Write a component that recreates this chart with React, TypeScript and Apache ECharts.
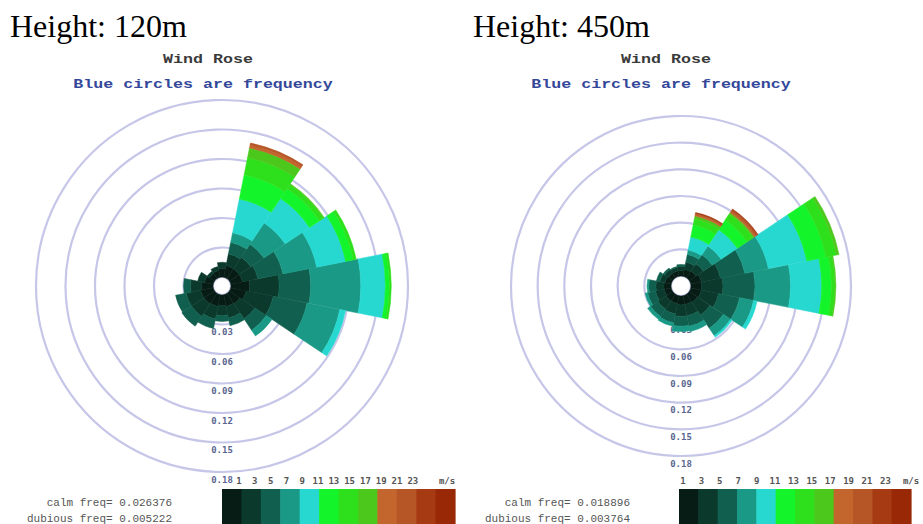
import React, { useEffect, useRef } from "react";
import * as echarts from "echarts";

// ---------- data ----------
const directions = ["N", "NNE", "NE", "ENE", "E", "ESE", "SE", "SSE", "S", "SSW", "SW", "WSW", "W", "WNW", "NW", "NNW"];
const speedLabels = ["1", "3", "5", "7", "9", "11", "13", "15", "17", "19", "21", "23"];
const speedUnit = "m/s";
const freqMin = 0;
const freqMax = 0.18;
const freqStep = 0.03;

// Height 120 m : frequency per direction (N..NNW) for each speed class
const h120_c1 = [0.009, 0.012, 0.012, 0.012, 0.019, 0.016, 0.013, 0.012, 0.011, 0.012, 0.013, 0.013, 0.012, 0.009, 0.006, 0.007];
const h120_c2 = [0.006, 0.012, 0.014, 0.016, 0.030, 0.028, 0.018, 0.012, 0.010, 0.013, 0.015, 0.015, 0.011, 0.007, 0.003, 0.004];
const h120_c3 = [0, 0.012, 0.016, 0.026, 0.032, 0.035, 0.014, 0.008, 0.006, 0.010, 0.012, 0.011, 0.007, 0, 0, 0];
const h120_c4 = [0, 0.010, 0.026, 0.035, 0.051, 0.034, 0.007, 0, 0, 0, 0, 0, 0, 0, 0, 0];
const h120_c5 = [0, 0.035, 0.030, 0.030, 0.025, 0.006, 0, 0, 0, 0, 0, 0, 0, 0, 0, 0];
const h120_c6 = [0, 0.025, 0.012, 0.008, 0.004, 0, 0, 0, 0, 0, 0, 0, 0, 0, 0, 0];
const h120_c7 = [0, 0.018, 0.005, 0.003, 0.002, 0, 0, 0, 0, 0, 0, 0, 0, 0, 0, 0];
const h120_c8 = [0, 0.010, 0.001, 0, 0, 0, 0, 0, 0, 0, 0, 0, 0, 0, 0, 0];
const h120_c9 = [0, 0.003, 0, 0, 0, 0, 0, 0, 0, 0, 0, 0, 0, 0, 0, 0];
const h120_c10 = [0, 0.002, 0, 0, 0, 0, 0, 0, 0, 0, 0, 0, 0, 0, 0, 0];
const h120_c11 = [0, 0, 0, 0, 0, 0, 0, 0, 0, 0, 0, 0, 0, 0, 0, 0];
const h120_c12 = [0, 0, 0, 0, 0, 0, 0, 0, 0, 0, 0, 0, 0, 0, 0, 0];

// Height 450 m
const h450_c1 = [0.006, 0.008, 0.009, 0.012, 0.012, 0.012, 0.011, 0.010, 0.010, 0.009, 0.009, 0.008, 0.008, 0.007, 0.006, 0.006];
const h450_c2 = [0.005, 0.008, 0.010, 0.022, 0.024, 0.020, 0.017, 0.013, 0.013, 0.012, 0.011, 0.010, 0.009, 0.006, 0.005, 0.004];
const h450_c3 = [0.002, 0.009, 0.012, 0.028, 0.036, 0.024, 0.018, 0.012, 0.011, 0.010, 0.010, 0.009, 0.008, 0.004, 0.002, 0.001];
const h450_c4 = [0, 0.005, 0.012, 0.027, 0.040, 0.016, 0.010, 0.006, 0.006, 0.004, 0.004, 0.003, 0.002, 0, 0, 0];
const h450_c5 = [0, 0.015, 0.022, 0.044, 0.035, 0.004, 0.002, 0, 0, 0, 0, 0, 0, 0, 0, 0];
const h450_c6 = [0, 0.014, 0.013, 0.022, 0.011, 0, 0, 0, 0, 0, 0, 0, 0, 0, 0, 0];
const h450_c7 = [0, 0.007, 0.008, 0.012, 0.004, 0, 0, 0, 0, 0, 0, 0, 0, 0, 0, 0];
const h450_c8 = [0, 0.003, 0.002, 0.003, 0.001, 0, 0, 0, 0, 0, 0, 0, 0, 0, 0, 0];
const h450_c9 = [0, 0.002, 0.002, 0, 0, 0, 0, 0, 0, 0, 0, 0, 0, 0, 0, 0];
const h450_c10 = [0, 0.001, 0.002, 0, 0, 0, 0, 0, 0, 0, 0, 0, 0, 0, 0, 0];
const h450_c11 = [0, 0.001, 0.001, 0, 0, 0, 0, 0, 0, 0, 0, 0, 0, 0, 0, 0];
const h450_c12 = [0, 0, 0, 0, 0, 0, 0, 0, 0, 0, 0, 0, 0, 0, 0, 0];

const classes120 = [h120_c1, h120_c2, h120_c3, h120_c4, h120_c5, h120_c6, h120_c7, h120_c8, h120_c9, h120_c10, h120_c11, h120_c12];
const classes450 = [h450_c1, h450_c2, h450_c3, h450_c4, h450_c5, h450_c6, h450_c7, h450_c8, h450_c9, h450_c10, h450_c11, h450_c12];

const panelTitles = ["Height: 120m", "Height: 450m"];
const calmTexts = ["calm freq= 0.026376", "calm freq= 0.018896"];
const dubiousTexts = ["dubious freq= 0.005222", "dubious freq= 0.003764"];

// ---------- styles ----------
const speedColors = [
  "#071c15", "#0b3a2d", "#11604f", "#1a9a86", "#26d8d0", "#14f42a",
  "#2ee01c", "#4cc81c", "#c2662e", "#b65626", "#a63a12", "#982806",
];

const panels = [
  { cx: 222, cy: 286, r0: 9, r1: 186, titleX: 10, headX: 208, subX: 203, noteX: 172,
    barX: 222, barW: 233, lblStart: 239, lblStep: 15.8, unitX: 447, classes: classes120 },
  { cx: 681, cy: 286, r0: 10, r1: 170, titleX: 473, headX: 666, subX: 661, noteX: 630,
    barX: 679, barW: 232, lblStart: 683, lblStep: 18.4, unitX: 911, classes: classes450 },
];

export default function App() {
  const ref = useRef<HTMLDivElement>(null);
  useEffect(() => {
    if (!ref.current) return;
    const chart = echarts.init(ref.current, null, { renderer: "svg" });

    const polar: any[] = [];
    const angleAxis: any[] = [];
    const radiusAxis: any[] = [];
    const series: any[] = [];
    const graphic: any[] = [];

    panels.forEach((p, pi) => {
      const axisIdx = pi * 2;
      const barIdx = pi * 2 + 1;
      polar.push({ center: [p.cx, p.cy], radius: [p.r0, p.r1] });
      polar.push({ center: [p.cx, p.cy], radius: [p.r0, p.r1] });
      angleAxis.push({
        polarIndex: axisIdx, type: "category", data: directions, startAngle: -90, clockwise: true,
        axisLine: { show: false }, axisTick: { show: false }, axisLabel: { show: false }, splitLine: { show: false },
      });
      angleAxis.push({
        polarIndex: barIdx, type: "category", data: directions, startAngle: 90 + 180 / directions.length, clockwise: true,
        axisLine: { show: false }, axisTick: { show: false }, axisLabel: { show: false }, splitLine: { show: false },
      });
      radiusAxis.push({
        polarIndex: axisIdx, type: "value", min: freqMin, max: freqMax, interval: freqStep,
        axisLine: { show: false }, axisTick: { show: false },
        splitLine: { show: true, lineStyle: { color: "#c6c6e8", width: 2.2 } },
        axisLabel: {
          show: true, showMinLabel: false, margin: 0, align: "center", verticalAlign: "top",
          padding: [3, 0, 0, 0], formatter: (v: number) => v.toFixed(2),
          fontSize: 9, fontFamily: "DejaVu Sans Mono", fontWeight: "bold", color: "#5a6690",
        },
      });
      radiusAxis.push({
        polarIndex: barIdx, type: "value", min: freqMin, max: freqMax,
        axisLine: { show: false }, axisTick: { show: false }, axisLabel: { show: false }, splitLine: { show: false },
      });
      p.classes.forEach((vals, ci) => {
        series.push({
          type: "bar", coordinateSystem: "polar", polarIndex: barIdx, stack: "s" + pi,
          name: speedLabels[ci], data: vals.map((v) => (v > 0 ? v : "-")), barCategoryGap: "0%", silent: true,
          itemStyle: { color: speedColors[ci], borderColor: speedColors[ci], borderWidth: 0.5 },
        });
      });

      // texts
      graphic.push({
        type: "text", x: p.titleX, y: 26,
        style: { text: panelTitles[pi], fontSize: 32, fontFamily: "Liberation Serif", fill: "#000", align: "left", verticalAlign: "middle" },
      });
      graphic.push({
        type: "text", x: p.headX, y: 60, scaleX: 1.28,
        style: { text: "Wind Rose", fontSize: 13, fontFamily: "Liberation Mono", fontWeight: "bold", fill: "#3a3a3a", align: "center", verticalAlign: "middle" },
      });
      graphic.push({
        type: "text", x: p.subX, y: 85, scaleX: 1.28,
        style: { text: "Blue circles are frequency", fontSize: 13, fontFamily: "Liberation Mono", fontWeight: "bold", fill: "#34489a", align: "center", verticalAlign: "middle" },
      });
      graphic.push({
        type: "text", x: p.noteX, y: 503, scaleX: 1.1,
        style: { text: calmTexts[pi], fontSize: 10, fontFamily: "Liberation Mono", fill: "#555", align: "right", verticalAlign: "middle" },
      });
      graphic.push({
        type: "text", x: p.noteX, y: 519, scaleX: 1.1,
        style: { text: dubiousTexts[pi], fontSize: 10, fontFamily: "Liberation Mono", fill: "#555", align: "right", verticalAlign: "middle" },
      });
      // colour bar
      const segW = p.barW / speedColors.length;
      speedColors.forEach((c, i) => {
        graphic.push({
          type: "rect", shape: { x: p.barX + i * segW, y: 489, width: segW + 0.6, height: 35 },
          style: { fill: c },
        });
      });
      speedLabels.forEach((s, i) => {
        graphic.push({
          type: "text", x: p.lblStart + i * p.lblStep, y: 481,
          style: { text: s, fontSize: 9, fontFamily: "DejaVu Sans Mono", fontWeight: "bold", fill: "#555", align: "center", verticalAlign: "middle" },
        });
      });
      graphic.push({
        type: "text", x: p.unitX, y: 481,
        style: { text: speedUnit, fontSize: 9, fontFamily: "DejaVu Sans Mono", fontWeight: "bold", fill: "#555", align: "center", verticalAlign: "middle" },
      });
    });

    chart.setOption({
      animation: false,
      backgroundColor: "#fff",
      polar, angleAxis, radiusAxis, series, graphic,
    });
    return () => chart.dispose();
  }, []);
  return <div ref={ref} style={{ position: "absolute", left: 0, top: 0, width: 923, height: 524 }} />;
}
